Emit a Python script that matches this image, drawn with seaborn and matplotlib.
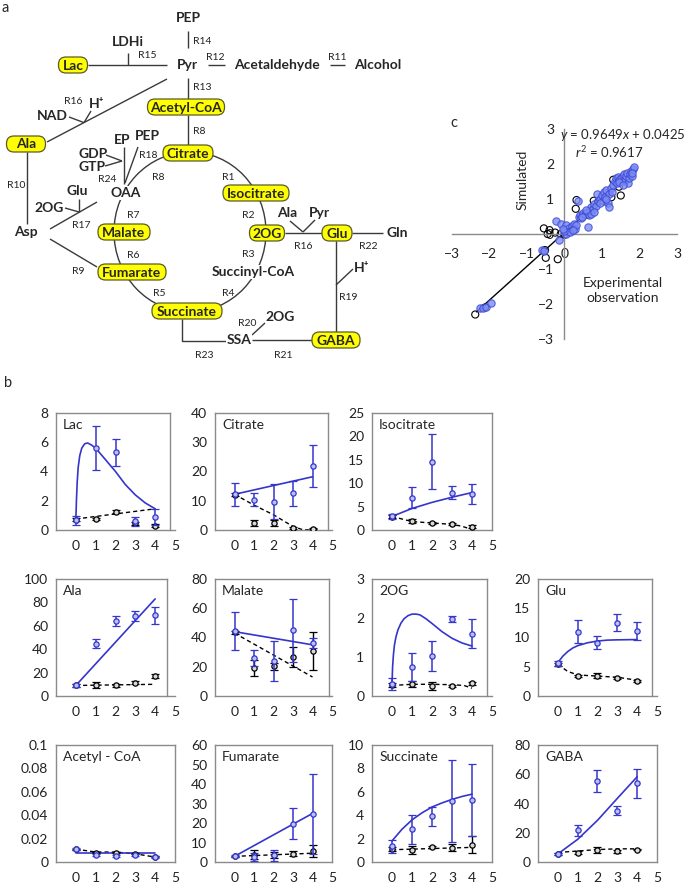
import numpy as np
import pandas as pd
import seaborn as sns
import matplotlib.pyplot as plt
from matplotlib.patches import FancyBboxPatch, Ellipse

sns.set_style('white')
plt.rcParams['font.family'] = ['Lato', 'DejaVu Sans']
plt.rcParams['mathtext.fontset'] = 'custom'
plt.rcParams['mathtext.rm'] = 'Lato'
plt.rcParams['mathtext.it'] = 'Lato:italic'

# ---------------- data: panel b (time courses) ----------------
t = [0, 1, 2, 3, 4]

lac_blue = [0.65, 5.6, 5.3, 0.6, 0.9]
lac_blue_err = [0.3, 1.5, 0.95, 0.3, 0.55]
lac_black = [0.7, 0.75, 1.25, 0.45, 0.3]
lac_black_err = [0.1, 0.1, 0.1, 0.1, 0.1]
lac_fit_x = [0, 0.03, 0.07, 0.12, 0.2, 0.3, 0.45, 0.6, 0.8, 1.0, 1.5, 2.0, 2.5, 3.0, 3.5, 4.0]
lac_fit_y = [0.65, 2.0, 3.3, 4.3, 5.1, 5.6, 5.9, 5.95, 5.8, 5.6, 4.8, 4.0, 3.1, 2.4, 1.85, 1.45]
lac_dash_x = [0, 4]
lac_dash_y = [0.75, 1.45]

cit_blue = [12.2, 10.3, 9.7, 12.5, 22.0]
cit_blue_err = [3.9, 2.2, 6.1, 4.3, 7.2]
cit_black = [12.0, 2.5, 2.4, 0.8, 0.5]
cit_black_err = [0.5, 1.0, 1.0, 0.3, 0.3]
cit_fit_x = [0, 4]
cit_fit_y = [12.2, 18.2]
cit_dash_x = [0, 1, 2, 3, 3.5, 4]
cit_dash_y = [12.2, 8.5, 5.2, 1.2, 0.1, 0.0]

iso_blue = [2.9, 6.9, 14.6, 8.0, 7.7]
iso_blue_err = [0.5, 2.2, 5.9, 1.4, 2.1]
iso_black = [2.8, 1.9, 1.5, 1.3, 0.7]
iso_black_err = [0.3, 0.4, 0.2, 0.3, 0.3]
iso_fit_x = [0, 1, 2, 3, 4]
iso_fit_y = [2.9, 4.6, 5.9, 7.0, 8.0]
iso_dash_x = [0, 1, 2, 3, 3.5, 4]
iso_dash_y = [2.9, 1.8, 1.5, 1.2, 0.8, 0.1]

ala_blue = [9.2, 44.5, 63.8, 68.1, 69.0]
ala_blue_err = [1.2, 3.8, 4.3, 4.3, 7.2]
ala_black = [9.0, 9.5, 9.0, 11.5, 17.0]
ala_black_err = [1.0, 2.5, 1.5, 1.5, 1.5]
ala_fit_x = [0, 4]
ala_fit_y = [9.0, 83.0]
ala_dash_x = [0, 4]
ala_dash_y = [9.0, 10.0]

mal_blue = [44.4, 26.0, 24.1, 44.8, 36.3]
mal_blue_err = [13.0, 5.4, 13.6, 21.8, 3.2]
mal_black = [43.5, 19.0, 20.2, 26.4, 31.0]
mal_black_err = [1.0, 5.5, 2.5, 6.8, 13.0]
mal_fit_x = [0, 4]
mal_fit_y = [44.0, 35.0]
mal_dash_x = [0, 4]
mal_dash_y = [43.0, 13.0]

og_blue = [0.3, 0.75, 1.03, 1.97, 1.6]
og_blue_err = [0.15, 0.36, 0.38, 0.08, 0.37]
og_black = [0.28, 0.3, 0.26, 0.26, 0.33]
og_black_err = [0.05, 0.08, 0.1, 0.03, 0.04]
og_fit_x = [0, 0.03, 0.07, 0.12, 0.2, 0.3, 0.45, 0.6, 0.8, 1.0, 1.2, 1.4, 1.7, 2.0, 2.5, 3.0, 3.5, 4.0]
og_fit_y = [0.3, 0.75, 1.05, 1.3, 1.52, 1.7, 1.87, 1.98, 2.06, 2.1, 2.1, 2.08, 1.98, 1.86, 1.65, 1.48, 1.36, 1.28]
og_dash_x = [0, 1, 2, 3, 3.6, 4]
og_dash_y = [0.27, 0.3, 0.3, 0.29, 0.27, 0.2]

glu_blue = [5.6, 11.0, 9.1, 12.5, 11.1]
glu_blue_err = [0.4, 1.95, 1.15, 1.45, 1.6]
glu_black = [5.4, 3.4, 3.5, 3.1, 2.6]
glu_black_err = [0.3, 0.2, 0.4, 0.2, 0.2]
glu_fit_x = [0, 0.25, 0.5, 0.75, 1, 1.5, 2, 2.5, 3, 4]
glu_fit_y = [5.7, 6.8, 7.6, 8.2, 8.6, 9.1, 9.4, 9.55, 9.6, 9.65]
glu_dash_x = [0, 0.5, 1, 2, 3, 4]
glu_dash_y = [5.4, 4.2, 3.6, 3.4, 3.2, 2.7]

acc_blue = [0.011, 0.006, 0.005, 0.006, 0.004]
acc_blue_err = [0.0008, 0.0008, 0.0008, 0.0008, 0.0008]
acc_black = [0.011, 0.008, 0.008, 0.007, 0.0045]
acc_black_err = [0.0005, 0.0005, 0.0005, 0.0005, 0.0005]
acc_fit_x = [0, 4]
acc_fit_y = [0.008, 0.008]
acc_dash_x = [0, 1, 2, 3, 4]
acc_dash_y = [0.011, 0.0085, 0.0085, 0.007, 0.0042]

fum_blue = [2.9, 2.6, 3.4, 19.7, 24.5]
fum_blue_err = [0.5, 2.0, 3.0, 8.1, 20.4]
fum_black = [2.9, 3.8, 3.4, 4.3, 5.5]
fum_black_err = [0.3, 2.5, 1.5, 1.3, 3.0]
fum_fit_x = [0, 4]
fum_fit_y = [2.9, 24.9]
fum_dash_x = [0, 4]
fum_dash_y = [2.9, 4.5]

suc_blue = [1.34, 2.8, 3.9, 5.2, 5.3]
suc_blue_err = [0.56, 1.25, 0.8, 3.5, 3.1]
suc_black = [1.1, 1.06, 1.26, 1.2, 1.48]
suc_black_err = [0.15, 0.35, 0.1, 0.3, 0.7]
suc_fit_x = [0, 0.5, 1, 1.5, 2, 2.5, 3, 3.5, 4]
suc_fit_y = [1.8, 2.8, 3.6, 4.2, 4.7, 5.05, 5.35, 5.6, 5.8]
suc_dash_x = [0, 4]
suc_dash_y = [1.05, 1.25]

gaba_blue = [5.3, 21.7, 55.3, 35.0, 53.7]
gaba_blue_err = [0.6, 3.7, 7.5, 3.1, 9.6]
gaba_black = [5.5, 6.2, 8.0, 7.3, 8.5]
gaba_black_err = [0.5, 1.0, 2.0, 1.0, 0.5]
gaba_fit_x = [0, 1, 2, 3, 4]
gaba_fit_y = [5.5, 15.5, 28.5, 43.5, 58.3]
gaba_dash_x = [0, 1, 2, 3, 4]
gaba_dash_y = [6.5, 7.5, 8.5, 9.0, 9.0]

# ---------------- data: panel c (simulated vs experimental) ----------------
blue_x = [-2.25, -2.18, -2.1, -1.95, -0.6, -0.55, -0.15,
          -0.22, -0.08, 0.05, 0.12, 0.2, 0.25, 0.18, 0.1, 0.05, 0.15, 0.28, 0.32, 0.22, 0.0, -0.05,
          0.35, 0.38, 0.42, 0.45, 0.5, 0.55, 0.6, 0.65, 0.68, 0.62, 0.7, 0.75, 0.8, 0.85, 0.88, 0.9,
          0.95, 1.0, 1.02, 1.05, 1.08, 1.1, 1.15, 1.18, 1.2, 1.25, 1.28, 1.3, 1.35, 1.38, 1.4, 1.42,
          1.45, 1.5, 1.55, 1.58, 1.6, 1.62, 1.65, 1.68, 1.7, 1.72, 1.75, 1.78, 1.8, 1.82, 1.85, 1.8,
          0.72, 0.78, 0.58, 0.48, 0.95, 1.12, 1.45, 1.55]
blue_y = [-2.12, -2.12, -2.08, -1.97, -0.45, -0.48, -0.18,
          0.38, 0.3, 0.25, 0.18, 0.22, 0.28, 0.1, 0.05, 0.0, 0.05, 0.15, 0.25, 0.12, 0.1, 0.15,
          0.95, 0.5, 0.55, 0.45, 0.6, 0.58, 0.62, 0.55, 0.7, 0.2, 0.78, 0.72, 0.85, 0.8, 1.15, 0.95,
          1.0, 1.1, 0.95, 1.2, 1.05, 1.25, 0.9, 0.78, 1.15, 1.3, 1.2, 1.4, 1.5, 1.6, 1.45, 1.62,
          1.55, 1.6, 1.65, 1.5, 1.7, 1.55, 1.65, 1.75, 1.45, 1.6, 1.7, 1.8, 1.65, 1.85, 1.92, 1.75,
          0.58, 0.62, 0.68, 0.5, 0.9, 1.0, 1.48, 1.4]
black_x = [-2.38, -2.12, -0.52, -0.5, -0.18, -0.55, -0.4, -0.25, -0.45, -0.1, 0.0, 0.3, 0.32,
           0.6, 0.78, 1.1, 1.25, 1.3, 1.45, 1.5, 0.1, 0.2, 0.45, 0.9]
black_y = [-2.3, -2.1, -0.46, -0.68, -0.72, 0.16, 0.11, 0.04, 0.0, 0.0, -0.02, 0.72, 0.97,
           0.55, 0.95, 1.0, 1.05, 1.55, 1.35, 1.1, 0.05, 0.15, 0.5, 0.92]
fit_x = [-2.35, 1.85]
fit_y = [-2.225, 1.828]

panels = [
    ('Lac', lac_blue, lac_blue_err, lac_black, lac_black_err, lac_fit_x, lac_fit_y, lac_dash_x, lac_dash_y),
    ('Citrate', cit_blue, cit_blue_err, cit_black, cit_black_err, cit_fit_x, cit_fit_y, cit_dash_x, cit_dash_y),
    ('Isocitrate', iso_blue, iso_blue_err, iso_black, iso_black_err, iso_fit_x, iso_fit_y, iso_dash_x, iso_dash_y),
    ('Ala', ala_blue, ala_blue_err, ala_black, ala_black_err, ala_fit_x, ala_fit_y, ala_dash_x, ala_dash_y),
    ('Malate', mal_blue, mal_blue_err, mal_black, mal_black_err, mal_fit_x, mal_fit_y, mal_dash_x, mal_dash_y),
    ('2OG', og_blue, og_blue_err, og_black, og_black_err, og_fit_x, og_fit_y, og_dash_x, og_dash_y),
    ('Glu', glu_blue, glu_blue_err, glu_black, glu_black_err, glu_fit_x, glu_fit_y, glu_dash_x, glu_dash_y),
    ('Acetyl - CoA', acc_blue, acc_blue_err, acc_black, acc_black_err, acc_fit_x, acc_fit_y, acc_dash_x, acc_dash_y),
    ('Fumarate', fum_blue, fum_blue_err, fum_black, fum_black_err, fum_fit_x, fum_fit_y, fum_dash_x, fum_dash_y),
    ('Succinate', suc_blue, suc_blue_err, suc_black, suc_black_err, suc_fit_x, suc_fit_y, suc_dash_x, suc_dash_y),
    ('GABA', gaba_blue, gaba_blue_err, gaba_black, gaba_black_err, gaba_fit_x, gaba_fit_y, gaba_dash_x, gaba_dash_y),
]
ymax = [8, 40, 25, 100, 80, 3, 20, 0.1, 60, 10, 80]
ystep = [2, 10, 5, 20, 20, 1, 5, 0.02, 10, 2, 20]
box_right = [4.74, 4.8, 5.0, 4.6, 4.83, 4.73, 4.75, 5.0, 5.0, 5.0, 5.0]
cells = [(0, 0), (0, 1), (0, 2), (1, 0), (1, 1), (1, 2), (1, 3), (2, 0), (2, 1), (2, 2), (2, 3)]

W, H = 685, 888
BLUE = '#3535cc'
GRAY = '#8a8a8a'
LINE = '#3a3a3a'

fig = plt.figure(figsize=(W / 100, H / 100), dpi=100)


def rect(x0, y0, x1, y1):
    return [x0 / W, 1 - y1 / H, (x1 - x0) / W, (y1 - y0) / H]


# ---------------- panel a: pathway diagram ----------------
dax = fig.add_axes([0, 0, 1, 1], zorder=0)
dax.set_xlim(0, W)
dax.set_ylim(H, 0)
dax.axis('off')


def seg(*pts):
    dax.plot([p[0] for p in pts], [p[1] for p in pts], color=LINE, lw=1.0, zorder=2,
             solid_capstyle='butt')


def node(x, y, w, s):
    h = 16
    dax.add_patch(FancyBboxPatch((x - w / 2, y - h / 2), w, h,
                                 boxstyle='round,pad=0,rounding_size=7.5',
                                 fc='#ffff00', ec='#5a5a2a', lw=0.9, zorder=4))
    dax.text(x, y + 0.5, s, ha='center', va='center', fontsize=10, fontweight='bold', zorder=5)


def lab(x, y, s, white=False):
    kw = {}
    if white:
        kw['bbox'] = dict(boxstyle='square,pad=0.05', fc='white', ec='none')
    dax.text(x, y, s, ha='center', va='center', fontsize=10, fontweight='bold', zorder=5, **kw)


def rl(x, y, s):
    dax.text(x, y, s, ha='center', va='center', fontsize=7.5, color='#222222', zorder=5)


# TCA cycle
dax.add_patch(Ellipse((190, 232), 152, 160, fill=False, ec=LINE, lw=1.0, zorder=1))

seg((188, 31), (188, 48))
seg((88, 65), (167, 65))
seg((128, 53), (128, 65))
seg((208, 65), (225, 65))
seg((330, 65), (345, 65))
seg((188, 78), (188, 99))
seg((188, 115), (188, 145))
seg((167, 79), (47, 142))
seg((69, 117), (84, 122.6))
seg((91, 111), (84, 122.6))
seg((27, 152), (27, 224))
seg((124, 147), (124, 184))
seg((138, 147), (125, 183))
seg((106, 155), (122, 161))
seg((105, 166), (122, 161))
seg((50, 229), (97, 202))
seg((79, 199), (79, 212))
seg((65, 208), (79, 212))
seg((50, 239), (97, 267))
seg((285, 233), (322, 233))
seg((352, 233), (383, 233))
seg((290, 221), (303, 232))
seg((315, 220), (303, 232))
seg((336, 241), (336, 332))
seg((353, 269), (336, 285))
seg((252, 340), (312, 340))
seg((265, 323), (252, 335))
seg((182, 319), (182, 341), (226, 341))

node(73, 65, 29, 'Lac')
node(186, 107, 77, 'Acetyl-CoA')
node(188, 153, 50, 'Citrate')
node(26, 144, 39, 'Ala')
node(256, 193, 66, 'Isocitrate')
node(124, 232, 52, 'Malate')
node(267, 233, 35, '2OG')
node(337, 233, 30, 'Glu')
node(132, 272, 68, 'Fumarate')
node(187, 311, 70, 'Succinate')
node(336, 340, 48, 'GABA')

lab(188, 18, 'PEP')
lab(128, 42, 'LDHi')
lab(187, 65, 'Pyr')
lab(277, 65, 'Acetaldehyde')
lab(378, 65, 'Alcohol')
lab(97, 104, 'H⁺')
lab(52, 116, 'NAD')
lab(122, 140, 'EP')
lab(147, 136, 'PEP')
lab(93, 154, 'GDP')
lab(92, 167, 'GTP')
lab(126, 193, 'OAA', white=True)
lab(77, 191, 'Glu')
lab(49, 208, '2OG')
lab(26, 232, 'Asp')
lab(287, 213, 'Ala')
lab(319, 213, 'Pyr')
lab(397, 233, 'Gln')
lab(253, 272, 'Succinyl-CoA', white=True)
lab(362, 268, 'H⁺')
lab(280, 317, '2OG')
lab(239, 340, 'SSA', white=True)

for x, y, s in [(202, 41, 'R14'), (147, 55, 'R15'), (215, 57, 'R12'), (337, 57, 'R11'),
                (202, 87, 'R13'), (73, 102, 'R16'), (199, 131, 'R8'), (148, 156, 'R18'),
                (107, 179, 'R24'), (158, 177, 'R8'), (228, 177, 'R1'), (16, 185, 'R10'),
                (133, 215, 'R7'), (248, 215, 'R2'), (81, 225, 'R17'), (303, 246, 'R16'),
                (368, 246, 'R22'), (248, 254, 'R3'), (133, 255, 'R6'), (78, 271, 'R9'),
                (159, 293, 'R5'), (228, 293, 'R4'), (348, 297, 'R19'), (247, 323, 'R20'),
                (204, 355, 'R23'), (283, 355, 'R21')]:
    rl(x, y, s)

dax.text(5, 8, 'a', ha='center', va='center', fontsize=10.5)
dax.text(8, 383, 'b', ha='center', va='center', fontsize=10.5)
dax.text(454, 123, 'c', ha='center', va='center', fontsize=10.5)

# ---------------- panel c: scatter ----------------
cax = fig.add_axes(rect(452, 129, 677, 339), zorder=2)
cax.patch.set_alpha(0)
sns.lineplot(x=fit_x, y=fit_y, ax=cax, color='black', lw=1.0, estimator=None, sort=False, zorder=1)
sns.scatterplot(x=black_x, y=black_y, ax=cax, s=26, facecolor='none', edgecolor='black',
                linewidth=0.8, zorder=2)
sns.scatterplot(x=blue_x, y=blue_y, ax=cax, s=28, color='#7d8cf2', edgecolor='#3a48d6',
                linewidth=0.8, alpha=0.8, zorder=3)
cax.set_xlim(-3, 3)
cax.set_ylim(-3, 3)
cax.set_xticks(range(-3, 4))
cax.set_yticks(range(-3, 4))
for side in ['top', 'right']:
    cax.spines[side].set_visible(False)
for side in ['left', 'bottom']:
    cax.spines[side].set_position('zero')
    cax.spines[side].set_color(GRAY)
    cax.spines[side].set_linewidth(1.0)
cax.tick_params(axis='both', labelsize=10, colors=GRAY, labelcolor='#222222', length=4, width=1,
                direction='out')
cax.tick_params(axis='x', pad=6)
cax.text(1.55, 2.83, r'$y$ = 0.9649$x$ + 0.0425', ha='center', va='center', fontsize=9.5)
cax.text(1.2, 2.34, r'$r^2$ = 0.9617', ha='center', va='center', fontsize=9.5)
cax.text(-1.13, 1.54, 'Simulated', rotation=90, ha='center', va='center', fontsize=10)
cax.text(1.56, -1.6, 'Experimental\nobservation', ha='center', va='center', fontsize=10,
         linespacing=1.3)

# ---------------- panel b: time courses ----------------
col_x = [(56, 175), (215, 332), (372, 492), (538, 657)]
row_y = [(413, 530), (579, 696), (745, 862)]

for i, (name, blue, berr, black, kerr, fx, fy, dx, dy) in enumerate(panels):
    r, c = cells[i]
    ax = fig.add_axes(rect(col_x[c][0], row_y[r][0], col_x[c][1], row_y[r][1]), zorder=2)
    ax.patch.set_alpha(0)
    sns.lineplot(x=dx, y=dy, ax=ax, color='black', lw=1.0, estimator=None, sort=False,
                 dashes=False, zorder=2)
    ax.lines[-1].set_dashes([3, 2.2])
    sns.lineplot(x=fx, y=fy, ax=ax, color=BLUE, lw=1.2, estimator=None, sort=False, zorder=3)
    ax.errorbar(t, black, yerr=kerr, fmt='o', ms=3.8, mfc='#d8d8d8', mec='black', mew=0.9,
                ecolor='black', elinewidth=1.0, capsize=2.6, capthick=1.0, zorder=4)
    ax.errorbar(t, blue, yerr=berr, fmt='o', ms=3.8, mfc='#b9c0f4', mec=BLUE, mew=0.9,
                ecolor=BLUE, elinewidth=1.1, capsize=2.6, capthick=1.1, zorder=5)
    ax.set_xlim(-1, 5)
    ax.set_ylim(0, ymax[i])
    ax.set_xticks(range(-1, 6))
    ax.set_xticklabels([''] + [str(v) for v in range(0, 6)])
    yt = np.arange(0, ymax[i] + ystep[i] / 2, ystep[i])
    ax.set_yticks(yt)
    ax.set_yticklabels(['{:g}'.format(round(v, 4)) for v in yt])
    ax.spines['right'].set_position(('data', box_right[i]))
    ax.spines['top'].set_bounds(-1, box_right[i])
    for sp in ax.spines.values():
        sp.set_color(GRAY)
        sp.set_linewidth(1.0)
    ax.tick_params(axis='both', labelsize=10, colors=GRAY, labelcolor='#222222', length=3.5,
                   width=1, direction='out')
    ax.tick_params(axis='x', pad=4)
    ax.tick_params(axis='y', pad=2)
    ax.set_xlabel('')
    ax.set_ylabel('')
    ax.text(0.06, 0.9, name, transform=ax.transAxes, ha='left', va='center', fontsize=10)

fig.savefig('out.png', dpi=100)
